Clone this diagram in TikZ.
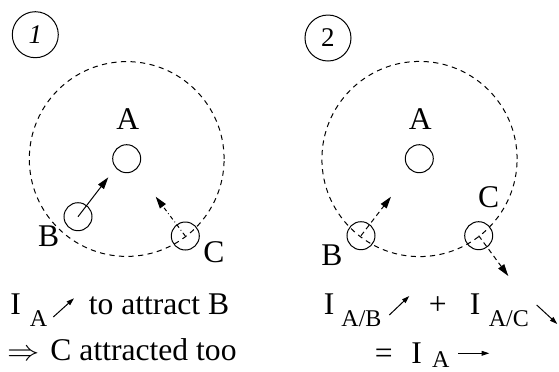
\documentclass[tikz,border=0pt]{standalone}
\usepackage{fontspec}
\setmainfont{Liberation Serif}
\usetikzlibrary{arrows.meta}
\begin{document}
\begin{tikzpicture}[x=0.5pt,y=-0.5pt,line width=0.5pt,
  ball/.style={draw,circle,minimum size=14pt,inner sep=0pt},
  tag/.style={draw,circle,minimum size=23pt,inner sep=0pt,font=\fontsize{13.5}{15}\selectfont},
  lbl/.style={anchor=base,inner sep=0pt,font=\fontsize{15.8}{18}\selectfont},
  txt/.style={anchor=base west,inner sep=0pt,font=\fontsize{15.8}{18}\selectfont},
  sub/.style={anchor=base west,inner sep=0pt,font=\fontsize{12}{14}\selectfont},
  orbit/.style={dash pattern=on 2.6pt off 2.2pt},
  tip/.style={-{Triangle[length=6pt,width=3.6pt]}},
  smalltip/.style={-{Triangle[length=3.8pt,width=2.4pt]}}]
\useasboundingbox (0,0) rectangle (559,371);
% panel 1
\node[tag] (one) at (35.3,34.7) {\itshape 1};
\draw[orbit] (126.7,159) circle (48.7pt);
\node[ball] (A1) at (126.7,158.7) {};
\node[ball] (B1) at (78,216.7) {};
\node[ball] (C1) at (185.3,236) {};
\node[lbl] (lA1) at (127.8,129.3) {A};
\node[lbl] (lB1) at (48.7,246) {B};
\node[lbl] (lC1) at (214,262) {C};
\coordinate (tB1) at (108.3,177.3);
\coordinate (tC1) at (155.7,196.7);
\draw[tip] (B1.center) -- (tB1);
\draw[tip,dash pattern=on 2pt off 1.4pt on 0.4pt off 1.4pt] (C1.center) -- (tC1);
% panel 2
\node[tag] (two) at (328,38) {2};
\draw[orbit] (419.5,159) circle (48.8pt);
\node[ball] (A2) at (419.3,158.7) {};
\node[ball] (B2) at (361,235.7) {};
\node[ball] (C2) at (478.7,235.7) {};
\node[lbl] (lA2) at (420.3,129.3) {A};
\node[lbl] (lB2) at (332,265) {B};
\node[lbl] (lC2) at (488.7,207.3) {C};
\coordinate (tB2) at (391,196.7);
\coordinate (tC2) at (508.3,276);
\draw[tip,dash pattern=on 2.4pt off 1.8pt] (B2.center) -- (tB2);
\draw[tip,dash pattern=on 2.4pt off 1.8pt] (C2.center) -- (tC2);
% text, panel 1
\node[txt] (I1) at (10,314.5) {I};
\node[sub] (s1) at (29.5,326) {A};
\coordinate (a1s) at (53.3,317);
\coordinate (a1e) at (74,298.3);
\draw[smalltip] (a1s) -- (a1e);
\node[txt] (t1) at (88.3,314.5) {to attract B};
\node[txt] (imp) at (7,360) {\scalebox{1.12}[1]{$\Rightarrow$}};
\node[txt] (t2) at (50,360) {C attracted too};
% text, panel 2
\node[txt] (I2) at (323.3,314.5) {I};
\node[sub] (s2) at (341,326) {A/B};
\coordinate (a2s) at (389.3,315);
\coordinate (a2e) at (409.3,296);
\draw[smalltip] (a2s) -- (a2e);
\node[txt,anchor=base] (plus) at (437.7,314.5) {+};
\node[txt] (I3) at (469.3,314.5) {I};
\node[sub] (s3) at (488.3,326) {A/C};
\coordinate (a3s) at (536.7,305);
\coordinate (a3e) at (557.3,324);
\draw[smalltip] (a3s) -- (a3e);
\node[txt] (eq) at (374.3,363) {=};
\node[txt] (I4) at (411,363) {I};
\node[sub] (s4) at (431.7,367.5) {A};
\coordinate (a4s) at (458.3,353.3);
\coordinate (a4e) at (489.3,353.3);
\draw[smalltip] (a4s) -- (a4e);
\end{tikzpicture}
\end{document}
